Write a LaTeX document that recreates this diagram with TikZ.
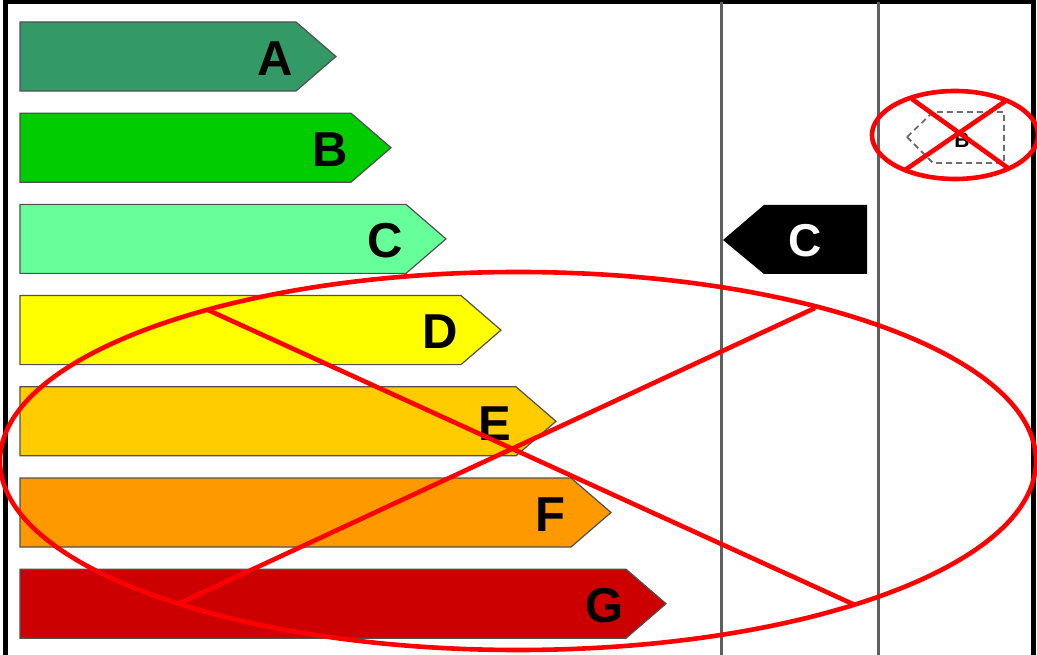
\documentclass[tikz,border=0pt]{standalone}
\usepackage{fontspec}
\setmainfont{Liberation Sans}
\definecolor{cA}{RGB}{51,153,102}
\definecolor{cB}{RGB}{0,204,0}
\definecolor{cC}{RGB}{102,255,153}
\definecolor{cD}{RGB}{255,255,0}
\definecolor{cE}{RGB}{255,204,0}
\definecolor{cF}{RGB}{255,153,0}
\definecolor{cG}{RGB}{204,0,0}
\definecolor{rule}{RGB}{95,95,95}
\definecolor{redx}{RGB}{255,0,0}
\begin{document}
\begin{tikzpicture}[x=1pt,y=-1pt,
  bar/.style={draw={rgb,255:red,80;green,80;blue,80},line width=1.2pt},
  lettr/.style={font=\fontsize{49}{49}\selectfont\bfseries,inner sep=0pt},
  cross/.style={draw=redx,line width=4.6pt},
  colline/.style={draw=rule,line width=3pt}]
\useasboundingbox (0,0) rectangle (1037,655);
\fill[white] (0,0) rectangle (1037,655);
% frame
\draw[line width=5pt] (5,0) -- (5,655);
\draw[line width=5pt] (3,2) -- (1035,2);
\draw[line width=5pt] (1033,0) -- (1033,655);
\draw[colline] (721,2) -- (721,655);
\draw[colline] (878,2) -- (878,655);
% bars
\foreach \i/\L/\c in {0/A/cA,1/B/cB,2/C/cC,3/D/cD,4/E/cE,5/F/cF,6/G/cG}{
  \pgfmathsetmacro{\yt}{22+91.2*\i}
  \pgfmathsetmacro{\yb}{\yt+69}
  \pgfmathsetmacro{\ym}{\yt+34.5}
  \pgfmathsetmacro{\xt}{336+55*\i}
  \pgfmathsetmacro{\xr}{\xt-40}
  \pgfmathsetmacro{\xl}{\xt-61}
  \path[bar,fill=\c] (20,\yt) -- (\xr,\yt) -- (\xt,\ym) -- (\xr,\yb) -- (20,\yb) -- cycle;
  \node[lettr] (l\L) at (\xl,\ym+2) {\L};
}
% current rating arrow
\path[fill=black] (723,240) -- (764,205) -- (867,205) -- (867,274) -- (764,274) -- cycle;
\node[lettr,text=white,font=\fontsize{46}{46}\selectfont\bfseries] (cur) at (805,241) {C};
% dashed potential arrow
\draw[dash pattern=on 6pt off 4pt,draw={rgb,255:red,110;green,110;blue,110},line width=1.8pt] (907,137) -- (933,112) -- (1004,112) -- (1004,163) -- (933,163) -- cycle;
\node[font=\fontsize{21}{21}\selectfont\bfseries,inner sep=0pt] (pot) at (962,140) {B};
% red crosses
\draw[cross] (518,461) ellipse [x radius=518,y radius=189];
\draw[cross] (208,310) -- (855,605);
\draw[cross] (815,308) -- (178,604);
\draw[cross] (955,135) ellipse [x radius=83,y radius=44];
\draw[cross] (912,99) -- (1008,168);
\draw[cross] (1007,100) -- (905,170);
\end{tikzpicture}
\end{document}
